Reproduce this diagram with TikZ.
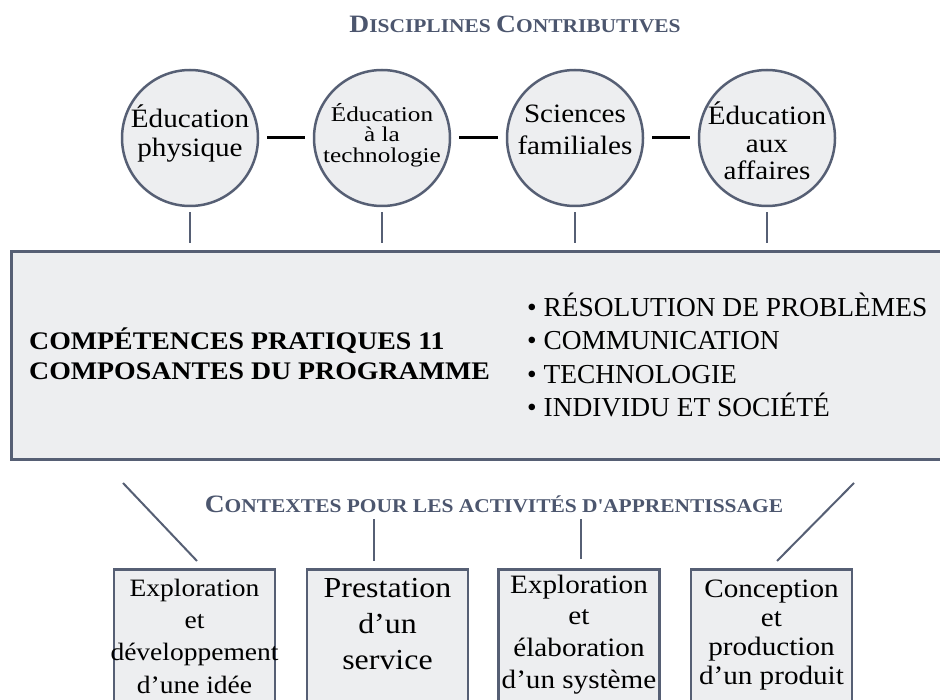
\documentclass[tikz,border=0pt]{standalone}
\usepackage{fontspec}
\setmainfont{Liberation Serif}
\newfontfamily\wf{Liberation Serif}[FakeStretch=1.1]
\newfontfamily\wfc{Liberation Serif}[FakeStretch=1.2]
\usetikzlibrary{calc}
\definecolor{slate}{RGB}{86,95,116}
\definecolor{fillc}{RGB}{237,238,240}
\definecolor{titlec}{RGB}{76,86,110}
\newcommand\fs[2]{\fontsize{#1}{#2}\selectfont}
\newcommand\bigsc[1]{{\fs{25}{25}#1}}
\newcommand\smsc[1]{{\fs{19.5}{19.5}#1}}
\begin{document}
\begin{tikzpicture}[x=1pt,y=-1pt,
 disc/.style={circle, draw=slate, line width=2.5pt, fill=fillc, minimum size=136pt, inner sep=0pt},
 disctext/.style={align=center, inner sep=0pt, text=black},
 ctxbox/.style={rectangle, draw=slate, line width=2.5pt, fill=fillc, minimum width=161pt, minimum height=160pt, anchor=north, inner sep=0pt},
 mainbox/.style={rectangle, draw=slate, line width=3pt, fill=fillc, minimum width=940pt, minimum height=208pt, anchor=north west, inner sep=0pt},
 link/.style={draw=black, line width=3pt, shorten <=8pt, shorten >=8pt},
 stem/.style={draw=slate, line width=2pt},
 heading/.style={text=titlec, inner sep=0pt, anchor=base, font=\wf\bfseries\fs{19.5}{19.5}}
]
\useasboundingbox (0,0) rectangle (940,700);
\clip (0,0) rectangle (940,700);

% heading
\node[heading] (h1) at (515,33) {\bigsc{D}\smsc{ISCIPLINES} \bigsc{C}\smsc{ONTRIBUTIVES}};

% circles
\node[disc] (c1) at (190,138) {};
\node[disc] (c2) at (382,138) {};
\node[disc] (c3) at (575,138) {};
\node[disc] (c4) at (767,138) {};
\node[disctext, font=\wf\fs{26.5}{29}] (t1) at (190,133) {Éducation\\physique};
\node[disctext, font=\wfc\fs{21}{20.5}] (t2) at (382,135) {Éducation\\à la\\technologie};
\node[disctext, font=\wf\fs{26.5}{32}] (t3) at (575,130) {Sciences\\familiales};
\node[disctext, font=\wf\fs{26.5}{27.5}] (t4) at (767,141) {Éducation\\aux\\affaires};

\draw[link] (c1) -- (c2);
\draw[link] (c2) -- (c3);
\draw[link] (c3) -- (c4);

% main box
\node[mainbox] (main) at (10,250) {};
\foreach \c in {c1,c2,c3,c4}
  \draw[stem, shorten <=5pt, shorten >=7pt] (\c.south) -- (\c.south |- main.north);

\node[anchor=west, inner sep=0pt, align=left, font=\wf\bfseries\fs{25.3}{30}] (comp) at (29,354)
  {COMPÉTENCES PRATIQUES 11\\COMPOSANTES DU PROGRAMME};
\node[anchor=west, inner sep=0pt, align=left, font=\fs{27.4}{33.3}] (list) at (527,355)
  {\textbullet\ RÉSOLUTION DE PROBLÈMES\\\textbullet\ COMMUNICATION\\\textbullet\ TECHNOLOGIE\\\textbullet\ INDIVIDU ET SOCIÉTÉ};

% contexts
\node[heading] (h2) at (494,512) {\bigsc{C}\smsc{ONTEXTES POUR LES ACTIVITÉS D\textquotesingle APPRENTISSAGE}};

\node[ctxbox] (b1) at (194.5,568) {};
\node[ctxbox] (b2) at (387.5,568) {};
\node[ctxbox] (b3) at (579,568) {};
\node[ctxbox] (b4) at (771.5,568) {};

\node[disctext, font=\wf\fs{25}{32.3}] (x1) at (194.5,636) {Exploration\\et\\développement\\d’une idée};
\node[disctext, font=\wf\fs{29}{36}] (x2) at (387.5,624.5) {Prestation\\d’un\\service};
\node[disctext, font=\wf\fs{26.5}{31.7}] (x3) at (579,634.5) {Exploration\\et\\élaboration\\d’un système};
\node[disctext, font=\wf\fs{26.5}{29.3}] (x4) at (771.5,635) {Conception\\et\\production\\d’un produit};

\coordinate (d1s) at (123,483);
\coordinate (d1e) at ($(b1.north)+(2.5,-7)$);
\coordinate (d4s) at (854,483);
\coordinate (d4e) at ($(b4.north)+(5.5,-7)$);
\coordinate (v2s) at (374,519);
\coordinate (v3s) at (581,519);
\draw[stem] (d1s) -- (d1e);
\draw[stem] (d4s) -- (d4e);
\draw[stem, shorten >=7pt] (v2s) -- (v2s |- b2.north);
\draw[stem, shorten >=9pt] (v3s) -- (v3s |- b3.north);
\end{tikzpicture}
\end{document}
